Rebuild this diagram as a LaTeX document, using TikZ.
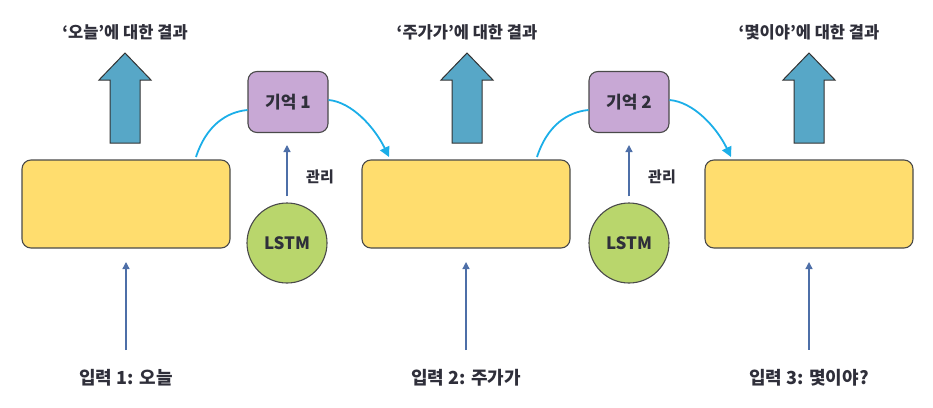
\documentclass[tikz,border=0pt]{standalone}
\usepackage{fontspec}
\setmainfont{Noto Sans CJK KR}
\usetikzlibrary{arrows.meta,calc}
\definecolor{ybox}{HTML}{FFDD6E}
\definecolor{ylw}{HTML}{4A4A4A}
\definecolor{fat}{HTML}{57A7C7}
\definecolor{memc}{HTML}{C8A8D5}
\definecolor{lstmc}{HTML}{B9D66C}
\definecolor{cyanl}{HTML}{1BAEE8}
\definecolor{inarr}{HTML}{4E6FA8}
\definecolor{txt}{HTML}{2F2F3A}
\begin{document}
\begin{tikzpicture}[x=1pt,y=-1pt,
  cellbox/.style={draw=ylw,fill=ybox,line width=1.1pt,rounded corners=9pt,minimum width=208pt,minimum height=88pt,inner sep=0pt},
  membox/.style={draw=ylw,fill=memc,line width=1.1pt,rounded corners=9pt,minimum width=80pt,minimum height=61pt,inner sep=0pt,font=\fontsize{17}{19}\selectfont\bfseries,text=txt},
  lstmnode/.style={draw=ylw,fill=lstmc,line width=1.1pt,circle,minimum size=80pt,inner sep=0pt,font=\fontsize{17}{19}\selectfont\bfseries,text=txt},
  fatarrow/.style={draw=black!80,fill=fat,line width=1pt,line join=miter},
  ttl/.style={font=\fontsize{16.5}{18}\selectfont\bfseries,text=txt},
  inlbl/.style={font=\fontsize{18}{20}\selectfont\bfseries,text=txt},
  mgl/.style={font=\fontsize{15}{17}\selectfont\bfseries,text=txt},
  inline/.style={draw=inarr,line width=1.3pt,-{Triangle[length=7pt,width=7pt]}},
  memline/.style={draw=cyanl,line width=1.8pt},
  memarrow/.style={draw=cyanl,line width=1.8pt,-{Triangle[length=10pt,width=10pt]}}
]
\useasboundingbox (0,0) rectangle (933,407);
% cells
\node[cellbox] (b1) at (126,204) {};
\node[cellbox] (b2) at (466,204) {};
\node[cellbox] (b3) at (809,204) {};
% memories
\node[membox] (m1) at (288,102) {기억 1};
\node[membox] (m2) at (629,102) {기억 2};
% LSTM
\node[lstmnode] (l1) at (287,243) {LSTM};
\node[lstmnode] (l2) at (629,243) {LSTM};
% manage arrows
\coordinate (m1b) at (287,145);
\coordinate (m2b) at (629,145);
\draw[inline] (l1.north) ++(0,-6) coordinate (l1t) -- (m1b);
\draw[inline] (l2.north) ++(0,-6) coordinate (l2t) -- (m2b);
\node[mgl] (g1) at (320,177) {관리};
\node[mgl] (g2) at (662,177) {관리};
% fat output arrows
\foreach \cx/\nm in {125/f1,467/f2,809/f3}{
  \draw[fatarrow] (\cx-15,143) -- (\cx-15,80) -- (\cx-26,80) -- (\cx,53) -- (\cx+26,80) -- (\cx+15,80) -- (\cx+15,143) -- cycle;
}
% titles
\node[ttl] (t1) at (125,32) {‘오늘’에 대한 결과};
\node[ttl] (t2) at (467,32) {‘주가가’에 대한 결과};
\node[ttl] (t3) at (809,32) {‘몇이야’에 대한 결과};
% memory curves
\coordinate (c1s) at (196,157);
\coordinate (c1e) at (389,157);
\coordinate (c2s) at (537,157);
\coordinate (c2e) at (731,157);
\draw[memline] (c1s) .. controls (206,126) and (226,112) .. (m1.west |- 0,110);
\draw[memarrow] (m1.east |- 0,100) .. controls (352,102) and (375,128) .. (c1e);
\draw[memline] (c2s) .. controls (547,126) and (567,112) .. (m2.west |- 0,110);
\draw[memarrow] (m2.east |- 0,100) .. controls (694,102) and (717,128) .. (c2e);
% inputs
\node[inlbl] (i1) at (126,378) {입력 1: 오늘};
\node[inlbl] (i2) at (466,378) {입력 2: 주가가};
\node[inlbl] (i3) at (809,378) {입력 3: 몇이야?};
\draw[inline] (i1.north) ++(0,-16) -- (b1.south |- 0,262);
\draw[inline] (i2.north) ++(0,-16) -- (b2.south |- 0,262);
\draw[inline] (i3.north) ++(0,-16) -- (b3.south |- 0,262);
\end{tikzpicture}
\end{document}
